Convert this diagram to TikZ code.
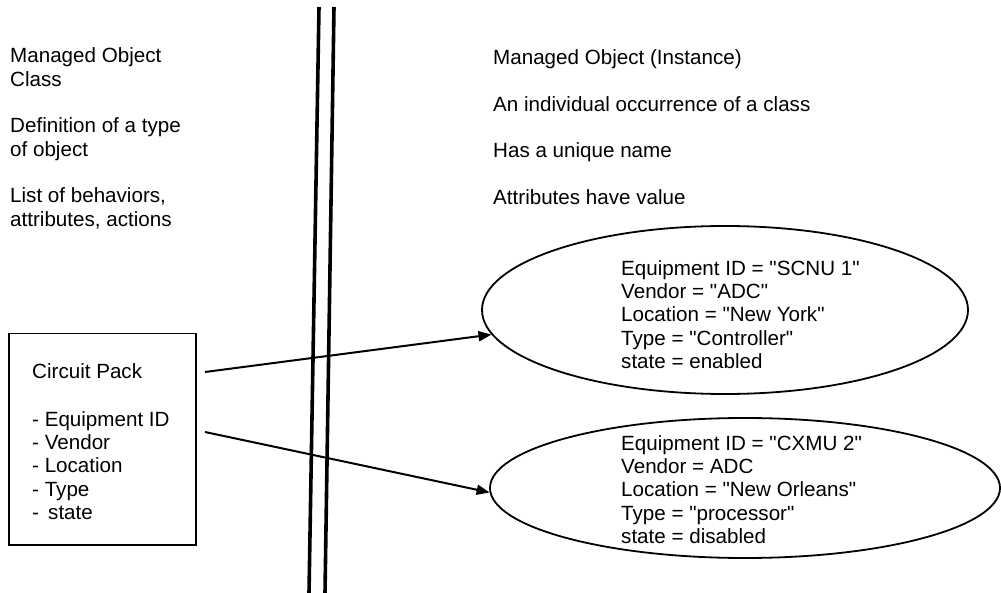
\documentclass[tikz,border=0pt]{standalone}
\usepackage{fontspec}
\setmainfont{Liberation Sans}[Ligatures=TeXOff]
\usetikzlibrary{shapes.geometric,arrows.meta}
\newcommand\dq{\char34\relax}
\tikzset{
  txt/.style={anchor=base west, inner sep=0pt, align=left, font=\fontsize{20.6}{23.4}\selectfont},
  obj/.style={draw, ellipse, line width=1.8pt, inner sep=0pt},
  conn/.style={line width=2pt, -{Triangle[length=13pt,width=10pt]}},
  wall/.style={line width=3.6pt},
}
\begin{document}
\begin{tikzpicture}[x=1pt,y=-1pt]
\useasboundingbox (0,0) rectangle (1001,593);
% double wall
\draw[wall] (319,7) -- (309,593);
\draw[wall] (334,7) -- (325,593);
% left texts (anchored at the baseline of the last line)
\node[txt] (l1) at (10,86.4) {Managed Object\\Class};
\node[txt] (l2) at (10,156.4) {Definition of a type\\of object};
\node[txt] (l3) at (10,226.4) {List of behaviors,\\attributes, actions};
% right texts
\node[txt] (r1) at (493,65) {Managed Object (Instance)};
\node[txt] (r2) at (493,112) {An individual occurrence of a class};
\node[txt] (r3) at (493,158) {Has a unique name};
\node[txt] (r4) at (493,205) {Attributes have value};
% class box
\node[draw, line width=1.5pt, minimum width=187pt, minimum height=211pt, anchor=north west, inner sep=0pt] (box) at (8,333) {};
\node[txt] (bt) at (32,378) {Circuit Pack};
\node[txt] (bl) at (32,519.6) {- Equipment ID\\- Vendor\\- Location\\- Type\\- \,state};
% instances
\node[obj, minimum width=486pt, minimum height=168pt] (e1) at (725,310) {};
\node[obj, minimum width=510pt, minimum height=140pt] (e2) at (745,488) {};
\node[txt] (t1) at (621,368.6) {Equipment ID = \dq SCNU 1\dq\\Vendor = \dq ADC\dq\\Location = \dq New York\dq\\Type = \dq Controller\dq\\state = enabled};
\node[txt] (t2) at (621,543.6) {Equipment ID = \dq CXMU 2\dq\\Vendor = ADC\\Location = \dq New Orleans\dq\\Type = \dq processor\dq\\state = disabled};
% connectors
\coordinate (a1) at (205,372);
\coordinate (a2) at (205,432);
\draw[conn] (a1) -- (e1.186);
\draw[conn] (a2) -- (e2.181);
\end{tikzpicture}
\end{document}
